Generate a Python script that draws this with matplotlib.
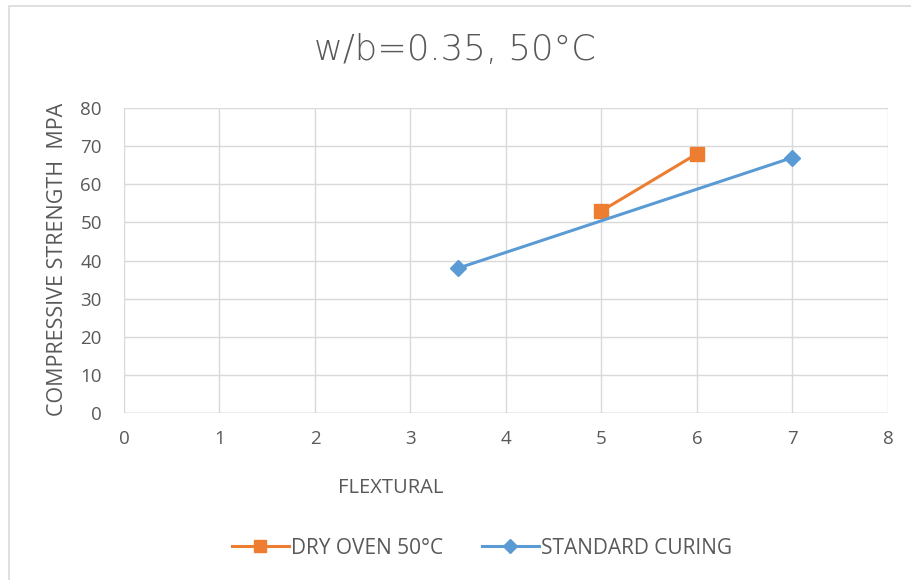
import matplotlib
matplotlib.use("Agg")
import matplotlib.pyplot as plt
from matplotlib.patches import Rectangle
from matplotlib.lines import Line2D

title = "w/b=0.35, 50°C"
x_label = "FLEXTURAL"
y_label = "COMPRESSIVE STRENGTH  MPA"

dry_x = [5, 6]
dry_y = [53, 68]
std_x = [3.5, 7]
std_y = [38, 67]
series_names = ["DRY OVEN 50°C", "STANDARD CURING"]

x_ticks = [0, 1, 2, 3, 4, 5, 6, 7, 8]
y_ticks = [0, 10, 20, 30, 40, 50, 60, 70, 80]

W, H = 911, 580
fig = plt.figure(figsize=(W / 100, H / 100), dpi=100)
plt.rcParams['font.family'] = ['Open Sans', 'DejaVu Sans']
txt = '#595959'
grid = '#d9d9d9'
orange = '#ED7D31'
blue = '#5B9BD5'

# outer chart border (right and bottom edges fall outside the image)
fig.patches.append(Rectangle((9 / W, -0.1), 1.2, 1.1 - 6 / H, transform=fig.transFigure,
                             fill=False, edgecolor='#d9d9d9', linewidth=1.2))

ax = fig.add_axes([124 / W, 1 - 413 / H, (888 - 124) / W, (413 - 108) / H])
ax.set_xlim(0, 8)
ax.set_ylim(0, 80)
ax.set_xticks(x_ticks)
ax.set_yticks(y_ticks)
ax.grid(True, color=grid, linewidth=1)
for s in ax.spines.values():
    s.set_visible(False)
ax.axhline(0, color='#bfbfbf', linewidth=1)
ax.tick_params(length=0, colors=txt, labelsize=13.5)
ax.tick_params(axis='x', pad=12)
ax.tick_params(axis='y', pad=16)
for lab in ax.get_xticklabels() + ax.get_yticklabels():
    lab.set_color(txt)

ax.plot(dry_x, dry_y, color=orange, linewidth=2.2, marker='s', markersize=9.5,
        markeredgecolor=orange, label=series_names[0], zorder=3)
ax.plot(std_x, std_y, color=blue, linewidth=2.2, marker='D', markersize=8,
        markeredgecolor=blue, label=series_names[1], zorder=3)

fig.text(455 / W, 1 - 50 / H, title, ha='center', va='center', fontsize=25.5,
         color=txt, family=['DejaVu Sans'], fontweight='light')
fig.text(391 / W, 1 - 488 / H, x_label, ha='center', va='center', fontsize=14.5, color=txt)
fig.text(58 / W, 1 - 259 / H, y_label, ha='center', va='center', rotation=90,
         fontsize=15.5, color=txt)

handles = [Line2D([], [], color=orange, marker='s', markersize=9, linewidth=2.2),
           Line2D([], [], color=blue, marker='D', markersize=7, linewidth=2.2)]
leg = fig.legend(handles, series_names, loc='center', bbox_to_anchor=(482 / W, 1 - 548 / H),
                 ncol=2, frameon=False, fontsize=15, handlelength=2.7, columnspacing=1.9,
                 handletextpad=0.1, borderpad=0)
for t in leg.get_texts():
    t.set_color(txt)

fig.savefig("out.png", dpi=100)
